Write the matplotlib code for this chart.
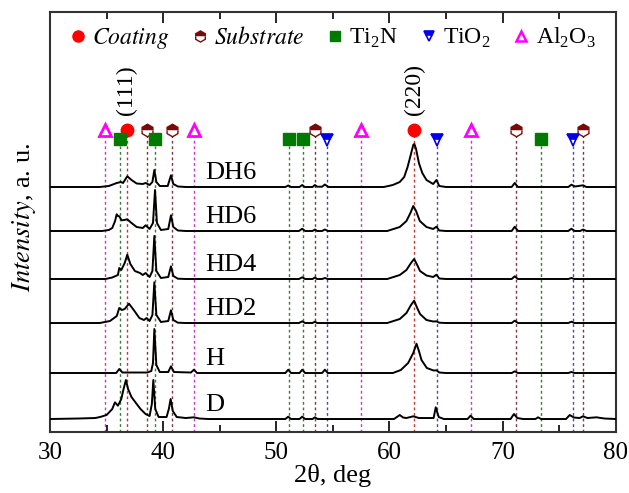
import numpy as np
import matplotlib.pyplot as plt
from matplotlib.lines import Line2D
from matplotlib.ticker import MultipleLocator

plt.rcParams['font.family'] = ['Liberation Serif', 'DejaVu Serif']
plt.rcParams['mathtext.fontset'] = 'custom'
plt.rcParams['mathtext.rm'] = 'Liberation Serif'

# reference line positions, 2theta in deg
coating_pos = [36.8, 62.2]
substrate_pos = [38.6, 40.8, 53.45, 71.2, 77.1]
ti2n_pos = [36.2, 39.3, 51.1, 52.35, 73.4]
tio2_pos = [54.5, 64.2, 76.2]
al2o3_pos = [34.9, 42.7, 57.5, 67.2]

# patterns: (2theta, intensity above baseline, a.u.)
DH6 = [(30, 0), (34.4, 0), (35.2, 1), (35.9, 4), (36.27, 5), (36.45, 4), (36.83, 10.7), (37.2, 7),
       (37.66, 3.5), (38.2, 3), (38.45, 4), (38.8, 2), (39.05, 5), (39.22, 17), (39.4, 5), (39.7, 1),
       (40.4, 1), (40.69, 11.7), (40.9, 3), (41.3, 0.5), (42, 0),
       (50.8, 0), (51.05, 1.5), (51.3, 0), (52.05, 0), (52.29, 2), (52.5, 0), (53.2, 0), (53.41, 2),
       (53.6, 0.3), (54.05, 0.3), (54.29, 2.5), (54.6, 0),
       (59.5, 0), (60.3, 2), (60.91, 5), (61.3, 10), (61.6, 20), (61.9, 33), (62.1, 42), (62.2, 43),
       (62.35, 38), (62.6, 24), (62.9, 14), (63.27, 7), (63.86, 3), (64.15, 7), (64.4, 1), (65, 0),
       (70.8, 0), (71.07, 4), (71.35, 0), (75.8, 0), (76.08, 2.3), (76.4, 0.5), (77.11, 1.7),
       (77.4, 0), (80, 0)]
HD6 = [(30, 0), (34.6, 0), (35.2, 1), (35.5, 3), (35.75, 10), (35.89, 16.7), (36.0, 15), (36.12, 14.7),
       (36.33, 10.7), (36.55, 11), (36.83, 11.7), (37.2, 8), (37.66, 4), (38.2, 3), (38.45, 5.7),
       (38.8, 2), (39.1, 8), (39.28, 41), (39.45, 8), (39.8, 1), (40.45, 2), (40.69, 15.7), (40.9, 4),
       (41.3, 0.5), (42, 0),
       (52.0, 0), (52.29, 2.3), (52.55, 0), (53.2, 0), (53.41, 1.5), (53.6, 0), (54.05, 0),
       (54.29, 1.5), (54.55, 0),
       (59.8, 0), (60.91, 4), (61.5, 10), (61.85, 18), (62.1, 25), (62.35, 20), (62.68, 10),
       (63.27, 4), (63.86, 2), (64.15, 4.3), (64.4, 0.5), (65, 0),
       (70.8, 0), (71.07, 4.3), (71.35, 0), (75.8, 0), (76.08, 2.3), (76.35, 0), (76.85, 0),
       (77.11, 1.5), (77.4, 0), (80, 0)]
HD4 = [(30, 0), (34.9, 0), (35.5, 1.5), (36.0, 4), (36.12, 11), (36.3, 9), (36.6, 16), (36.83, 24.3),
       (37.1, 15), (37.5, 8), (37.95, 6), (38.2, 4), (38.45, 6), (38.8, 2), (39.05, 8), (39.22, 43),
       (39.4, 8), (39.8, 1), (40.45, 2), (40.69, 12.7), (40.9, 3), (41.3, 0.3), (42, 0),
       (52.0, 0), (52.29, 1.7), (52.55, 0), (53.2, 0), (53.41, 1.5), (53.6, 0), (54.05, 0),
       (54.29, 1), (54.55, 0),
       (59.8, 0), (60.91, 4), (61.5, 9), (61.9, 16), (62.18, 20), (62.45, 14), (62.7, 8),
       (63.27, 3.5), (63.86, 2), (64.15, 4.3), (64.4, 0.5), (65, 0),
       (70.8, 0), (71.07, 2.7), (71.35, 0), (75.8, 0), (76.08, 1), (76.35, 0), (80, 0)]
HD2 = [(30, 0), (34.4, 0), (35.3, 2), (35.9, 7), (36.12, 15), (36.35, 13), (36.6, 14), (36.98, 19.3),
       (37.4, 13), (37.9, 5), (38.3, 3), (38.54, 5), (38.8, 2), (39.05, 8), (39.22, 40.7), (39.4, 8),
       (39.8, 1), (40.45, 2), (40.69, 12.7), (40.9, 3), (41.3, 0.3), (42, 0),
       (52.0, 0), (52.29, 1.7), (52.55, 0), (53.2, 0), (53.41, 1.3), (53.6, 0),
       (59.8, 0), (60.91, 4), (61.5, 10), (61.9, 18), (62.18, 22.3), (62.45, 15), (62.7, 9),
       (63.27, 3), (63.86, 1.5), (64.15, 1.7), (64.4, 0.3), (65, 0),
       (70.8, 0), (71.07, 2.3), (71.35, 0), (75.8, 0), (76.08, 1.3), (76.35, 0), (80, 0)]
H = [(30, 0), (35.85, 0), (36.12, 4), (36.4, 0.5), (38.6, 0.5), (38.95, 2), (39.1, 10), (39.22, 44),
     (39.4, 8), (39.7, 1), (40.45, 1), (40.69, 6.7), (40.95, 1), (42.45, 0.5), (42.72, 3.3), (43.0, 0),
     (50.8, 0), (51.05, 3.3), (51.3, 0), (52.05, 0), (52.29, 3.3), (52.55, 0), (54.05, 0),
     (54.29, 3.3), (54.55, 0),
     (60.3, 0), (61.0, 3), (61.65, 10), (62.1, 20), (62.39, 29.3), (62.6, 22), (62.83, 13), (63.3, 5),
     (63.9, 2.5), (64.15, 2.7), (64.4, 0.5), (65, 0),
     (70.8, 0), (71.07, 1.7), (71.35, 0), (75.8, 0), (76.08, 1), (76.35, 0), (80, 0)]
D = [(30, 0), (32.5, 0.5), (34.0, 1), (34.42, 2), (35.0, 4), (35.5, 10), (35.74, 16.7), (36.0, 13.3),
     (36.3, 20), (36.5, 30), (36.71, 39), (36.9, 30), (37.2, 22), (37.66, 15), (38.0, 10), (38.45, 5),
     (38.8, 3), (39.0, 15), (39.13, 39), (39.3, 10), (39.6, 2), (40.3, 2), (40.5, 10), (40.66, 20),
     (40.85, 8), (41.2, 2), (42.0, 1), (42.72, 1.7), (43.2, 0.5), (44, 0),
     (50.8, 0), (51.05, 2.3), (51.3, 0), (52.05, 0), (52.29, 2.3), (52.55, 0), (53.2, 0),
     (53.41, 1.7), (53.65, 0),
     (60.4, 0), (60.91, 4), (61.2, 1.5), (61.5, 1), (62.1, 2.7), (62.6, 1), (63.9, 1), (64.09, 11.7),
     (64.35, 2), (64.8, 0), (66.9, 0), (67.16, 3.3), (67.45, 0), (70.7, 0), (71.0, 5), (71.3, 1),
     (71.8, 0), (72.9, 0), (73.13, 1.7), (73.4, 0), (75.6, 0), (75.93, 4), (76.3, 1.5), (76.8, 1),
     (77.1, 2.7), (77.5, 1), (78.29, 1.7), (79, 0.5), (80, 0)]

samples = ['DH6', 'HD6', 'HD4', 'HD2', 'H', 'D']
patterns = [DH6, HD6, HD4, HD2, H, D]
offsets = [245, 201, 153, 109, 59, 13]

fig = plt.figure(figsize=(6.29, 4.93), dpi=100)
ax = fig.add_axes([0.0795, 0.1237, 0.8995, 0.852])

# phase reference lines and markers
phases = [
    (al2o3_pos, 302, dict(marker='^', ms=8, mfc='none', mec='#ff00ff', mew=2), '#cc33cc'),
    (coating_pos, 302, dict(marker='o', ms=9, mfc='#ff0000', mec='#ff0000'), '#cc3333'),
    (substrate_pos, 302, dict(marker='h', ms=9, fillstyle='top', mfc='#7a0a0a',
                              mfcalt='white', mec='#7a0a0a', mew=1), '#7a3a3a'),
    (ti2n_pos, 293, dict(marker='s', ms=8, mfc='#007a00', mec='#007a00'), '#3a7a3a'),
    (tio2_pos, 292, dict(marker='v', ms=8, fillstyle='top', mfc='#0000ee', mfcalt='white',
                         mec='#0000ee', mew=1.2), '#4a4aa0'),
]
for pos, y, mk, lc in phases:
    for p in pos:
        ax.plot([p, p], [0, y - 6], color=lc, lw=1, ls=(0, (2, 2)), zorder=1)
    ax.plot(pos, [y] * len(pos), ls='none', zorder=4, **mk)

for name, pat, off in zip(samples, patterns, offsets):
    tt = np.array([p[0] for p in pat])
    ii = np.array([p[1] for p in pat])
    ax.plot(tt, ii + off, color='black', lw=1.4, zorder=3)
    ax.text(43.7, off + 8, name, fontsize=19, ha='left', va='baseline', zorder=5)

ax.text(36.8, 342, '(111)', rotation=90, fontsize=17, ha='center', va='center')
ax.text(62.2, 342, '(220)', rotation=90, fontsize=17, ha='center', va='center')

handles = [
    Line2D([], [], ls='none', marker='o', ms=8, mfc='#ff0000', mec='#ff0000'),
    Line2D([], [], ls='none', marker='h', ms=8, fillstyle='top', mfc='#7a0a0a',
           markerfacecoloralt='white', mec='#7a0a0a'),
    Line2D([], [], ls='none', marker='s', ms=7, mfc='#007a00', mec='#007a00'),
    Line2D([], [], ls='none', marker='v', ms=7, fillstyle='top', mfc='#0000ee',
           markerfacecoloralt='white', mec='#0000ee', mew=1.2),
    Line2D([], [], ls='none', marker='^', ms=7, mfc='none', mec='#ff00ff', mew=1.8),
]
labels = [r'$\mathit{Coating}$', r'$\mathit{Substrate}$', r'Ti$_2$N', r'TiO$_2$', r'Al$_2$O$_3$']
leg = ax.legend(handles, labels, ncol=5, loc='upper center', bbox_to_anchor=(0.5, 1.0),
                frameon=False, fontsize=17, handlelength=0.6, handletextpad=0.3,
                columnspacing=1.0, borderaxespad=0.2)
for t in leg.get_texts()[:2]:
    t.set_math_fontfamily('stix')

ax.set_xlim(30, 80)
ax.set_ylim(0, 420)
ax.xaxis.set_major_locator(MultipleLocator(10))
ax.xaxis.set_minor_locator(MultipleLocator(5))
ax.set_yticks([])
ax.tick_params(axis='x', which='both', direction='in', top=True, labelsize=18, pad=7)
ax.tick_params(axis='x', which='major', length=8, width=1.2)
ax.tick_params(axis='x', which='minor', length=5, width=1.2)
for s in ax.spines.values():
    s.set_linewidth(1.5)
    s.set_color('#333333')

ax.set_xlabel('2θ, deg', fontsize=19, labelpad=0)
ax.set_ylabel(r'$\mathit{Intensity}$, a. u.', fontsize=19, math_fontfamily='stix')
ax.yaxis.set_label_coords(-0.022, 0.51)

fig.savefig('out.png', dpi=100)
